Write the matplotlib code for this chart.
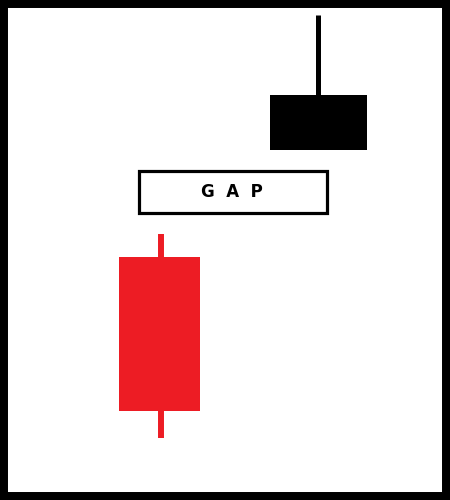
import matplotlib.pyplot as plt
from matplotlib.patches import Rectangle

# candle data (price units)
xpos = [0.995, 2.0]
opens = [24.3, 35.0]
highs = [26.6, 48.5]
lows = [6.2, 35.3]
closes = [8.9, 40.5]
colors = ['#ED1C24', '#000000']
body_w = [0.51, 0.61]
wick_lw = [4.3, 3.6]
wick_shift = [0.01, 0.0]

# the gap label box
gap_label = 'G  A  P'
gap_x = (0.868, 2.054)
gap_y = (28.7, 32.9)

fig = plt.figure(figsize=(4.5, 5), dpi=100)
ax = fig.add_axes([0, 0, 1, 1])

for i in range(len(xpos)):
    # wick first, body over it
    wl = ax.vlines(xpos[i] + wick_shift[i], lows[i], highs[i], color=colors[i],
                   linewidth=wick_lw[i], zorder=1)
    wl.set_capstyle('butt')
    bottom = min(opens[i], closes[i])
    h = abs(opens[i] - closes[i])
    ax.add_patch(Rectangle((xpos[i] - body_w[i] / 2, bottom), body_w[i], h,
                           facecolor=colors[i], edgecolor='none', zorder=2))

ax.add_patch(Rectangle((gap_x[0], gap_y[0]), gap_x[1] - gap_x[0], gap_y[1] - gap_y[0],
                       facecolor='white', edgecolor='black', linewidth=2.3, zorder=3))
ax.text((gap_x[0] + gap_x[1]) / 2 - 0.01, (gap_y[0] + gap_y[1]) / 2, gap_label,
        ha='center', va='center', fontsize=12, fontweight='bold', zorder=4)

ax.set_xlim(-0.0095, 2.83)
ax.set_ylim(0, 50)
ax.set_xticks([])
ax.set_yticks([])

# thick black frame round the picture
for s in ax.spines.values():
    s.set_color('black')
    s.set_linewidth(11.5)

fig.savefig('out.png', dpi=100)
